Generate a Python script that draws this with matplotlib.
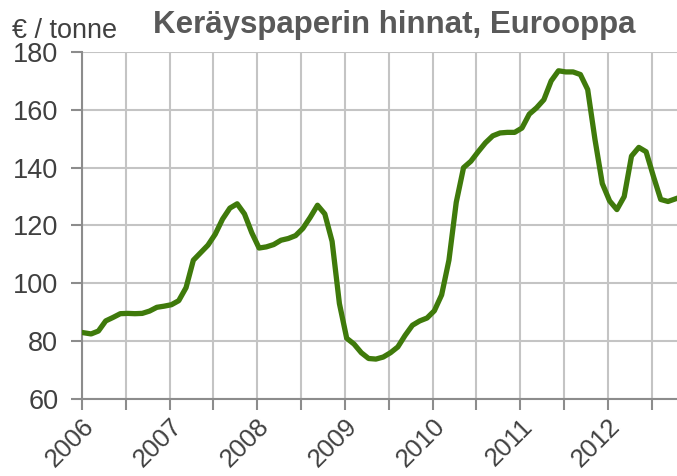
import numpy as np
import matplotlib
matplotlib.use("Agg")
import matplotlib.pyplot as plt
from matplotlib.ticker import MultipleLocator

plt.rcParams['font.family'] = ['Liberation Sans', 'DejaVu Sans']

# Monthly price, Jan 2006 .. Oct 2012 (EUR / tonne)
start_year = 2006
prices = [
    82.9, 82.5, 83.5, 87.0, 88.2, 89.5, 89.6, 89.5, 89.6, 90.4, 91.7, 92.1,
    92.6, 94.0, 98.5, 108.0, 110.6, 113.2, 117.0, 122.2, 126.0, 127.5, 124.0, 117.5,
    112.2, 112.6, 113.4, 114.9, 115.5, 116.5, 119.0, 122.8, 127.0, 124.0, 114.5, 93.0,
    81.0, 79.0, 76.0, 74.0, 73.8, 74.5, 76.0, 78.0, 82.0, 85.5, 87.0, 88.0,
    90.5, 96.0, 108.0, 128.0, 140.0, 142.2, 145.5, 148.6, 151.0, 152.0, 152.2, 152.2,
    153.7, 158.5, 160.7, 163.5, 170.0, 173.5, 173.1, 173.1, 172.2, 167.0, 149.7, 134.5,
    128.5, 125.5, 130.0, 144.0, 147.0, 145.5, 137.0, 129.0, 128.3, 129.2,
]
year_labels = ['2006', '2007', '2008', '2009', '2010', '2011', '2012']

title = 'Keräyspaperin hinnat, Eurooppa'
unit = '€ / tonne'

x = start_year + (np.arange(len(prices)) + 0.25) / 12

fig = plt.figure(figsize=(6.77, 4.76), dpi=100)
ax = fig.add_axes([0.1211, 0.1618, 0.8789, 0.729])

grid_col = '#c4c4c4'
axis_col = '#8c8c8c'
text_col = '#404040'

ax.plot(x, prices, color='#3f7a0b', lw=3.8, solid_joinstyle='round', zorder=3)

ax.set_xlim(2006, 2012.79)
ax.set_ylim(60, 180)
ax.yaxis.set_major_locator(MultipleLocator(20))
ax.set_xticks([int(y) for y in year_labels])
ax.set_xticks(np.arange(2006.5, 2012.8, 1.0), minor=True)
ax.set_xticklabels(year_labels, rotation=45, ha='right', rotation_mode='anchor')

ax.grid(True, which='both', color=grid_col, lw=1.5, zorder=0)
ax.tick_params(axis='both', which='both', colors=axis_col, length=8, width=1.5,
               labelsize=19.5, labelcolor=text_col)
ax.tick_params(axis='x', which='major', pad=3, labelsize=18.5)
ax.tick_params(axis='y', pad=9)

for s in ['top', 'right']:
    ax.spines[s].set_visible(False)
for s in ['left', 'bottom']:
    ax.spines[s].set_color(axis_col)
    ax.spines[s].set_linewidth(1.5)

fig.text(12 / 677, 1 - 38 / 476, unit, fontsize=19.5, color=text_col, va='baseline', ha='left')
fig.text(394 / 677, 1 - 33 / 476, title, fontsize=22.5, fontweight='bold',
         color='#595959', va='baseline', ha='center')

fig.savefig('out.png', dpi=100)
